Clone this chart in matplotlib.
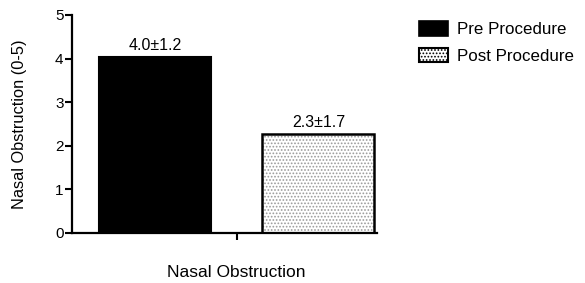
import matplotlib
matplotlib.use("Agg")
import matplotlib.pyplot as plt
from matplotlib.patches import Patch

plt.rcParams['font.family'] = ['Liberation Sans', 'DejaVu Sans']
plt.rcParams['hatch.linewidth'] = 0.8

groups = ["Pre Procedure", "Post Procedure"]
values = [4.03, 2.27]
labels = ["4.0±1.2", "2.3±1.7"]
category = "Nasal Obstruction"
ylabel = "Nasal Obstruction (0-5)"
yticks = [0, 1, 2, 3, 4, 5]

fig = plt.figure(figsize=(5.85, 2.83), dpi=100)
ax = fig.add_axes([0.123, 0.177, 0.522, 0.77])

xs = [0, 1]
ax.bar(xs[0], values[0], width=0.685, color='black', edgecolor='black', linewidth=1.5)
ax.bar(xs[1], values[1], width=0.685, color='white', edgecolor='#9a9a9a', linewidth=0, hatch='.....')
ax.bar(xs[1], values[1], width=0.685, fill=False, edgecolor='black', linewidth=1.8)

for x, v, t in zip(xs, values, labels):
    ax.text(x, v + 0.1, t, ha='center', va='bottom', fontsize=11.5)

ax.set_xlim(-0.508, 1.36)
ax.set_ylim(0, 5)
ax.set_yticks(yticks)
ax.set_xticks([0.5])
ax.set_xticklabels([category])
ax.tick_params(axis='x', length=5, width=1.5, pad=18, labelsize=12.5)
ax.tick_params(axis='y', length=5, width=1.5, pad=1, labelsize=11)
ax.set_ylabel(ylabel, fontsize=11.8, labelpad=20)
for s in ['top', 'right']:
    ax.spines[s].set_visible(False)
for s in ['left', 'bottom']:
    ax.spines[s].set_linewidth(1.6)

handles = [Patch(facecolor='black', edgecolor='black', linewidth=1.2),
           Patch(facecolor='white', edgecolor='black', hatch='.....', linewidth=1.5)]
fig.legend(handles, groups, loc='upper left', bbox_to_anchor=(0.705, 0.949),
           frameon=False, fontsize=12.2, handlelength=1.7, handleheight=0.95,
           handletextpad=0.55, labelspacing=0.6, borderaxespad=0)

fig.savefig("out.png", dpi=100)
